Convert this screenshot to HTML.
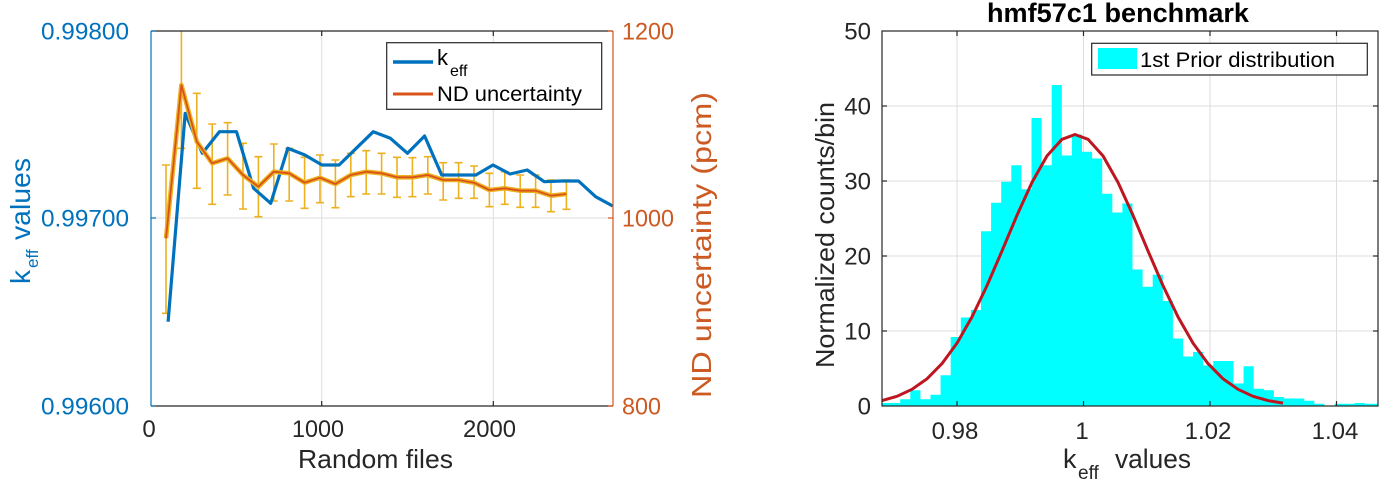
<!DOCTYPE html>
<html>
<head>
<meta charset="utf-8">
<style>
html,body{margin:0;padding:0;background:#fff;}
svg{display:block;}
text{font-family:"Liberation Sans",Arial,sans-serif;}
</style>
</head>
<body>
<svg width="1380" height="481" viewBox="0 0 1380 481" xmlns="http://www.w3.org/2000/svg">
<defs>
  <clipPath id="cl"><rect x="151" y="31" width="462" height="375"/></clipPath>
  <clipPath id="cr"><rect x="882" y="31" width="496" height="375"/></clipPath>
</defs>
<rect width="1380" height="481" fill="#fff"/>

<!-- ================= LEFT PLOT ================= -->
<g stroke="#dedede" stroke-width="1">
  <line x1="321.7" y1="31" x2="321.7" y2="406"/>
  <line x1="493.3" y1="31" x2="493.3" y2="406"/>
  <line x1="151" y1="218" x2="613" y2="218"/>
</g>

<g clip-path="url(#cl)">
  <!-- error bars -->
  <path fill="none" stroke="#EDB120" stroke-width="1.6" d="
  M166,165 V313.3 M162,165 H170 M162,313.3 H170
  M181.4,18 V148.3 M177.4,148.3 H185.4
  M196.8,93.3 V188.3 M192.8,93.3 H200.8 M192.8,188.3 H200.8
  M212.2,124 V204.3 M208.2,124 H216.2 M208.2,204.3 H216.2
  M227.6,122.7 V195 M223.6,122.7 H231.6 M223.6,195 H231.6
  M243,143.3 V209 M239,143.3 H247 M239,209 H247
  M258.4,156.7 V216.7 M254.4,156.7 H262.4 M254.4,216.7 H262.4
  M273.8,144 V201 M269.8,144 H277.8 M269.8,201 H277.8
  M289.2,148.3 V201 M285.2,148.3 H293.2 M285.2,201 H293.2
  M304.6,157.3 V208.3 M300.6,157.3 H308.6 M300.6,208.3 H308.6
  M320,155 V202.7 M316,155 H324 M316,202.7 H324
  M335.4,160 V207.7 M331.4,160 H339.4 M331.4,207.7 H339.4
  M350.8,153.3 V196.7 M346.8,153.3 H354.8 M346.8,196.7 H354.8
  M366.2,150.7 V194 M362.2,150.7 H370.2 M362.2,194 H370.2
  M381.6,153.3 V194 M377.6,153.3 H385.6 M377.6,194 H385.6
  M397,157.3 V197.3 M393,157.3 H401 M393,197.3 H401
  M412.4,157.7 V196.7 M408.4,157.7 H416.4 M408.4,196.7 H416.4
  M427.8,156.7 V194 M423.8,156.7 H431.8 M423.8,194 H431.8
  M443.2,162.7 V200 M439.2,162.7 H447.2 M439.2,200 H447.2
  M458.6,162.7 V198.3 M454.6,162.7 H462.6 M454.6,198.3 H462.6
  M474,166 V198.3 M470,166 H478 M470,198.3 H478
  M489.4,173.3 V206.7 M485.4,173.3 H493.4 M485.4,206.7 H493.4
  M504.8,171.7 V204.3 M500.8,171.7 H508.8 M500.8,204.3 H508.8
  M520.2,175 V207.3 M516.2,175 H524.2 M516.2,207.3 H524.2
  M535.6,175 V207.3 M531.6,175 H539.6 M531.6,207.3 H539.6
  M551,180 V211.7 M547,180 H555 M547,211.7 H555
  M566.4,180 V209.3 M562.4,180 H570.4 M562.4,209.3 H570.4"/>

  <!-- keff blue line -->
  <polyline fill="none" stroke="#0072BD" stroke-width="3.2" stroke-linejoin="round" points="168.1,321.7 185.2,113.3 202.3,153.3 219.4,131.7 236.5,131.7 253.6,188.3 270.7,203.3 287.8,148.3 304.9,155 322,165 339.1,165 356.2,148.3 373.3,131.7 390.4,138.3 407.5,153.3 424.6,136 441.7,175 458.8,175 475.9,175 493,165 510.1,174 527.2,170 544.3,181.7 561.4,181 578.5,181 595.6,196.7 612.7,206"/>

  <!-- ND uncertainty line (yellow edge + orange core) -->
  <polyline fill="none" stroke="#EDB120" stroke-width="4.6" stroke-linejoin="round" points="166,238.3 181.4,85 196.8,141.7 212.2,163.3 227.6,158.3 243,175 258.4,186.7 273.8,171.7 289.2,173.3 304.6,182.7 320,177.7 335.4,184 350.8,175 366.2,171.7 381.6,173.3 397,177.3 412.4,177.3 427.8,175 443.2,180 458.6,180 474,182.7 489.4,190 504.8,188.3 520.2,190.7 535.6,190.7 551,195.7 566.4,194"/>
  <polyline fill="none" stroke="#D95319" stroke-width="1.8" stroke-linejoin="round" points="166,238.3 181.4,85 196.8,141.7 212.2,163.3 227.6,158.3 243,175 258.4,186.7 273.8,171.7 289.2,173.3 304.6,182.7 320,177.7 335.4,184 350.8,175 366.2,171.7 381.6,173.3 397,177.3 412.4,177.3 427.8,175 443.2,180 458.6,180 474,182.7 489.4,190 504.8,188.3 520.2,190.7 535.6,190.7 551,195.7 566.4,194"/>
</g>

<!-- left axes box -->
<line x1="151" y1="31" x2="613" y2="31" stroke="#262626" stroke-width="1.2"/>
<line x1="151" y1="406" x2="613" y2="406" stroke="#262626" stroke-width="1.2"/>
<line x1="151" y1="31" x2="151" y2="406" stroke="#0072BD" stroke-width="1.2"/>
<line x1="613" y1="31" x2="613" y2="406" stroke="#D95319" stroke-width="1.2"/>
<g stroke="#262626" stroke-width="1.2">
  <line x1="321.7" y1="406" x2="321.7" y2="401"/>
  <line x1="493.3" y1="406" x2="493.3" y2="401"/>
  <line x1="321.7" y1="31" x2="321.7" y2="36"/>
  <line x1="493.3" y1="31" x2="493.3" y2="36"/>
</g>
<g stroke="#0072BD" stroke-width="1.2">
  <line x1="151" y1="31" x2="156" y2="31"/>
  <line x1="151" y1="218" x2="156" y2="218"/>
  <line x1="151" y1="406" x2="156" y2="406"/>
</g>
<g stroke="#D95319" stroke-width="1.2">
  <line x1="613" y1="31" x2="608" y2="31"/>
  <line x1="613" y1="218" x2="608" y2="218"/>
  <line x1="613" y1="406" x2="608" y2="406"/>
</g>

<!-- left legend -->
<rect x="386.7" y="42.7" width="215" height="66.6" fill="#fff" stroke="#262626" stroke-width="1.2"/>
<line x1="393" y1="62" x2="433" y2="62" stroke="#0072BD" stroke-width="3.4"/>
<line x1="393" y1="94" x2="433" y2="94" stroke="#D95319" stroke-width="3"/>
<text x="437" y="65" font-size="22" fill="#000">k</text>
<text x="450" y="76" font-size="16" fill="#000">eff</text>
<text x="437" y="101" font-size="21" fill="#000" textLength="145" lengthAdjust="spacingAndGlyphs">ND uncertainty</text>

<!-- left tick labels -->
<g font-size="24" fill="#0072BD" text-anchor="end">
  <text x="129" y="39.5" textLength="88" lengthAdjust="spacingAndGlyphs">0.99800</text>
  <text x="129" y="226.5" textLength="88" lengthAdjust="spacingAndGlyphs">0.99700</text>
  <text x="129" y="414.5" textLength="88" lengthAdjust="spacingAndGlyphs">0.99600</text>
</g>
<g font-size="24" fill="#CC5A22">
  <text x="622" y="39.5" textLength="52" lengthAdjust="spacingAndGlyphs">1200</text>
  <text x="622" y="226.5" textLength="52" lengthAdjust="spacingAndGlyphs">1000</text>
  <text x="622" y="414.5" textLength="39" lengthAdjust="spacingAndGlyphs">800</text>
</g>
<g font-size="24" fill="#262626" text-anchor="middle">
  <text x="149" y="437">0</text>
  <text x="318" y="437" textLength="52" lengthAdjust="spacingAndGlyphs">1000</text>
  <text x="489.5" y="437" textLength="53" lengthAdjust="spacingAndGlyphs">2000</text>
</g>
<text x="375.5" y="468" font-size="26" fill="#262626" text-anchor="middle" textLength="155" lengthAdjust="spacingAndGlyphs">Random files</text>

<!-- left y label -->
<g transform="translate(30,284) rotate(-90)" fill="#0072BD">
  <text x="0" y="0" font-size="28">k</text>
  <text x="16" y="8" font-size="17">eff</text>
  <text x="44" y="0" font-size="28" textLength="82" lengthAdjust="spacingAndGlyphs">values</text>
</g>
<!-- right y label -->
<text transform="translate(711,245) rotate(-90)" font-size="28" fill="#CC5A22" text-anchor="middle" textLength="306" lengthAdjust="spacingAndGlyphs">ND uncertainty (pcm)</text>

<!-- ================= RIGHT PLOT ================= -->
<g stroke="#dedede" stroke-width="1">
  <line x1="957" y1="31" x2="957" y2="406"/>
  <line x1="1083.5" y1="31" x2="1083.5" y2="406"/>
  <line x1="1210" y1="31" x2="1210" y2="406"/>
  <line x1="1336.5" y1="31" x2="1336.5" y2="406"/>
  <line x1="882" y1="106" x2="1378" y2="106"/>
  <line x1="882" y1="181" x2="1378" y2="181"/>
  <line x1="882" y1="256" x2="1378" y2="256"/>
  <line x1="882" y1="331" x2="1378" y2="331"/>
</g>

<g clip-path="url(#cr)">
  <path fill="#00FFFF" stroke="none" d="M880,406 V403 H900.2 V399.25 H910.3 V390.25 H920.4 V399.25 H930.5 V394.75 H940.6 V375.25 H950.7 V337 H960.8 V317.5 H970.9 V310 H981 V231.25 H991.1 V202.75 H1001.2 V181.75 H1011.3 V165.25 H1021.4 V189.25 H1031.5 V118 H1041.6 V165.25 H1051.7 V85 H1061.8 V155.5 H1071.9 V134.5 H1082 V151.75 H1092.1 V158.5 H1102.2 V193.75 H1112.3 V212.5 H1122.4 V203.5 H1132.5 V269.5 H1142.6 V286.75 H1152.7 V274.75 H1162.8 V301 H1172.9 V338.5 H1183 V356.5 H1193.1 V352 H1203.2 V365.5 H1213.3 V361 H1233.5 V383.5 H1243.6 V366.25 H1253.7 V388.75 H1263.8 V390.25 H1273.9 V397 H1284 V398.5 H1304.2 V400.75 H1314.3 V403.75 H1324.4 V406 H1334.5 V403.75 H1354.7 V403 H1364.8 V403.75 H1378 V406 Z"/>
  <polyline fill="none" stroke="#BE1620" stroke-width="3" stroke-linejoin="round" points="882,400.6 897,396.3 912,389.3 927,378.8 942,363.6 957,343.1 972,316.9 987,285.6 1002,250.9 1017,215.3 1032,182.4 1047,155.9 1062,139.3 1075,134.5 1088,139.3 1103,155.9 1118,182.4 1133,215.3 1148,250.9 1163,285.6 1178,316.9 1193,343.1 1208,363.6 1223,378.8 1238,389.3 1253,396.3 1268,400.6 1283,403.1"/>
</g>

<!-- right axes box -->
<rect x="882" y="31" width="496" height="375" fill="none" stroke="#262626" stroke-width="1.2"/>
<g stroke="#262626" stroke-width="1.2">
  <line x1="957" y1="406" x2="957" y2="401"/>
  <line x1="1083.5" y1="406" x2="1083.5" y2="401"/>
  <line x1="1210" y1="406" x2="1210" y2="401"/>
  <line x1="1336.5" y1="406" x2="1336.5" y2="401"/>
  <line x1="957" y1="31" x2="957" y2="36"/>
  <line x1="1083.5" y1="31" x2="1083.5" y2="36"/>
  <line x1="1210" y1="31" x2="1210" y2="36"/>
  <line x1="1336.5" y1="31" x2="1336.5" y2="36"/>
  <line x1="882" y1="106" x2="887" y2="106"/>
  <line x1="882" y1="181" x2="887" y2="181"/>
  <line x1="882" y1="256" x2="887" y2="256"/>
  <line x1="882" y1="331" x2="887" y2="331"/>
  <line x1="1378" y1="106" x2="1373" y2="106"/>
  <line x1="1378" y1="181" x2="1373" y2="181"/>
  <line x1="1378" y1="256" x2="1373" y2="256"/>
  <line x1="1378" y1="331" x2="1373" y2="331"/>
</g>

<!-- right legend -->
<rect x="1091.7" y="43.3" width="275.6" height="31.7" fill="#fff" stroke="#262626" stroke-width="1.2"/>
<rect x="1098" y="48" width="39" height="21" fill="#00FFFF"/>
<text x="1140" y="67" font-size="21" fill="#000" textLength="195" lengthAdjust="spacingAndGlyphs">1st Prior distribution</text>

<!-- title -->
<text x="1118" y="22" font-size="27" font-weight="bold" fill="#000" text-anchor="middle" textLength="262" lengthAdjust="spacingAndGlyphs">hmf57c1 benchmark</text>

<!-- right tick labels -->
<g font-size="24" fill="#262626" text-anchor="end">
  <text x="871" y="39.5">50</text>
  <text x="871" y="114.5">40</text>
  <text x="871" y="189.5">30</text>
  <text x="871" y="264.5">20</text>
  <text x="871" y="339.5">10</text>
  <text x="871" y="414.5">0</text>
</g>
<g font-size="24" fill="#262626" text-anchor="middle">
  <text x="955" y="439">0.98</text>
  <text x="1082" y="439">1</text>
  <text x="1208" y="439">1.02</text>
  <text x="1335" y="439">1.04</text>
</g>
<!-- right y label -->
<text transform="translate(834,235) rotate(-90)" font-size="26" fill="#262626" text-anchor="middle" textLength="266" lengthAdjust="spacingAndGlyphs">Normalized counts/bin</text>
<!-- right x label -->
<text x="1063" y="468" font-size="27" fill="#262626">k</text>
<text x="1078" y="479" font-size="19" fill="#262626">eff</text>
<text x="1115" y="468" font-size="27" fill="#262626" textLength="76" lengthAdjust="spacingAndGlyphs">values</text>
</svg>
</body>
</html>
